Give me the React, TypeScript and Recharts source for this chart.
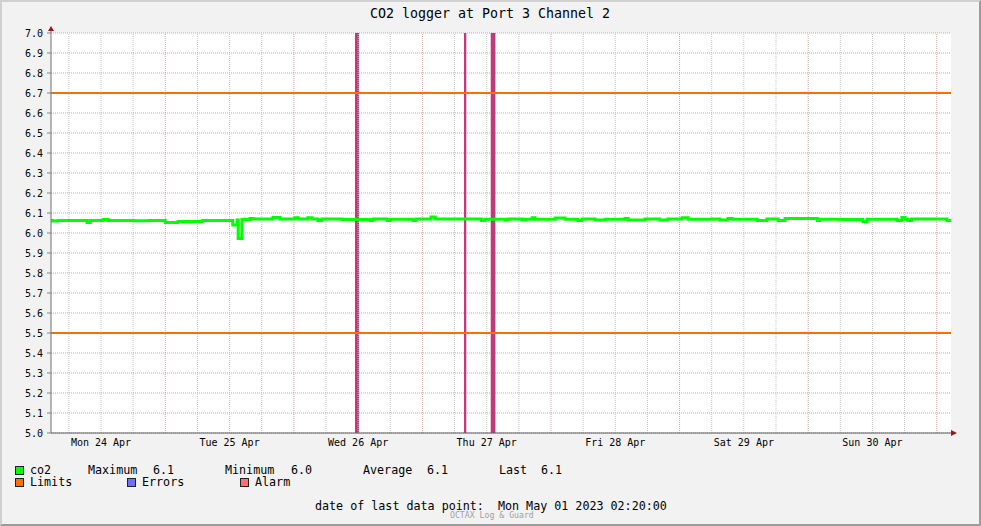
import React from "react";
import {
  LineChart,
  Line,
  XAxis,
  YAxis,
  CartesianGrid,
  ReferenceLine,
  ReferenceArea,
} from "recharts";

const MONO = "'DejaVu Sans Mono', monospace";

// hours since Mon 24 Apr 00:00
const hours = [
  2.67, 2.9, 4.0, 5.3, 9.4, 10.0, 12.4, 13.3, 18, 21, 24.0, 26.4, 30.9, 36.6,
  37.4, 37.6, 38.3, 39.8, 40.4, 44.1, 45.4, 48.2, 48.8, 50.6, 51.4, 52.5, 53.2,
  57, 62.2, 62.8, 65.4, 66.0, 70.2, 70.8, 73.6, 74.4, 83.0, 83.7, 87.4, 88.0,
  90.6, 91.2, 92.5, 93.0, 96.8, 98.6, 101.0, 101.8, 104.2, 106.1, 109.8, 110.4,
  111.1, 113.6, 116.3, 117.8, 120.5, 121.6, 126, 127.5, 129.0, 129.8, 134.5,
  136.3, 138.4, 139.7, 145.7, 146.2, 150, 154.2, 155.0, 160.6, 161.5, 162.1,
  162.6, 163.3, 169.9, 170.67,
];
const co2 = [
  6.063, 6.06, 6.063, 6.062, 6.053, 6.062, 6.068, 6.062, 6.061, 6.062, 6.053,
  6.057, 6.062, 6.04, 6.065, 5.973, 6.068, 6.073, 6.07, 6.078, 6.07, 6.076,
  6.07, 6.076, 6.07, 6.062, 6.07, 6.068, 6.062, 6.07, 6.062, 6.069, 6.062,
  6.07, 6.08, 6.07, 6.062, 6.069, 6.065, 6.07, 6.065, 6.069, 6.076, 6.069,
  6.075, 6.069, 6.062, 6.07, 6.065, 6.069, 6.072, 6.065, 6.065, 6.07, 6.065,
  6.07, 6.076, 6.069, 6.07, 6.065, 6.073, 6.069, 6.062, 6.07, 6.062, 6.073,
  6.062, 6.069, 6.068, 6.057, 6.069, 6.062, 6.078, 6.069, 6.062, 6.07, 6.062,
  6.062,
];

const alarmStart = [59.41, 79.76, 84.75];
const alarmEnd = [60.16, 80.19, 85.61];
const limits = [6.7, 5.5];

const dayTicks = [12, 36, 60, 84, 108, 132, 156];
const dayLabels = [
  "Mon 24 Apr",
  "Tue 25 Apr",
  "Wed 26 Apr",
  "Thu 27 Apr",
  "Fri 28 Apr",
  "Sat 29 Apr",
  "Sun 30 Apr",
];
const yTicks = [
  5.0, 5.1, 5.2, 5.3, 5.4, 5.5, 5.6, 5.7, 5.8, 5.9, 6.0, 6.1, 6.2, 6.3, 6.4,
  6.5, 6.6, 6.7, 6.8, 6.9, 7.0,
];
const minorGrid = [6, 12, 18, 30, 36, 42, 54, 60, 66, 78, 84, 90, 102, 108, 114, 126, 132, 138, 150, 156, 162];
const majorGrid = [24, 48, 72, 96, 120, 144, 168];

const data = hours.map((h, i) => ({ h, co2: co2[i] }));

const Box = ({ x, y, c }) => (
  <rect x={x + 0.5} y={y + 0.5} width={8} height={8} fill={c} stroke="#222" />
);

export default function App() {
  return (
    <div
      style={{
        position: "absolute",
        left: 0,
        top: 0,
        width: 981,
        height: 526,
        background: "#f2f2f2",
        boxSizing: "border-box",
        borderTop: "2px solid #d0d0d0",
        borderLeft: "2px solid #d0d0d0",
        borderBottom: "2px solid #9c9c9c",
        borderRight: "2px solid #9c9c9c",
      }}
    >
      <div style={{ position: "absolute", left: -2, top: -2 }}>
        <LineChart
          width={981}
          height={526}
          data={data}
          margin={{ top: 33, right: 30, bottom: 73, left: 6 }}
        >
          <CartesianGrid
            vertical={false}
            fill="#ffffff"
            stroke="#e29a9a"
            strokeDasharray="1 1"
          />
          {minorGrid.map((g) => (
            <ReferenceLine key={"m" + g} x={g} stroke="#c4c4c4" strokeDasharray="1 1" />
          ))}
          {majorGrid.map((g) => (
            <ReferenceLine key={"M" + g} x={g} stroke="#e29a9a" strokeDasharray="1 1" />
          ))}
          <XAxis
            type="number"
            dataKey="h"
            domain={[2.667, 170.667]}
            allowDataOverflow
            ticks={dayTicks}
            tickFormatter={(v) => dayLabels[dayTicks.indexOf(v)]}
            tick={{ fontSize: 10, fill: "#000", fontFamily: MONO }}
            tickLine={false}
            tickSize={6}
            tickMargin={0}
            axisLine={{ stroke: "#606060" }}
            height={20}
          />
          <YAxis
            type="number"
            domain={[5, 7]}
            ticks={yTicks}
            interval={0}
            tickFormatter={(v) => v.toFixed(1)}
            tick={{ fontSize: 10, fill: "#000", fontFamily: MONO }}
            tickLine={{ stroke: "#808080" }}
            tickSize={4}
            tickMargin={4}
            axisLine={{ stroke: "#707070" }}
            width={45}
          />
          {limits.map((l) => (
            <ReferenceLine key={"l" + l} y={l} stroke="#f97000" strokeWidth={2} />
          ))}
          <Line
            type="stepAfter"
            dataKey="co2"
            stroke="#00ff00"
            strokeWidth={3}
            dot={false}
            isAnimationActive={false}
          />
          {alarmStart.map((s, i) => (
            <ReferenceArea
              key={"a" + i}
              x1={s}
              x2={alarmEnd[i]}
              y1={5}
              y2={7}
              fill="#c2387a"
              fillOpacity={1}
              stroke="none"
            />
          ))}
        </LineChart>
        <svg
          width={981}
          height={526}
          style={{ position: "absolute", left: 0, top: 0, pointerEvents: "none" }}
          fontFamily={MONO}
        >
          <path d="M48 31 L54 31 L51 26 Z" fill="#9a1a1a" />
          <path d="M951 430 L951 436 L957 433 Z" fill="#9a1a1a" />
          <line x1={51} y1={31} x2={51} y2={33} stroke="#707070" />
          <text x={490} y={18} textAnchor="middle" fontSize={13.3} fill="#000">
            CO2 logger at Port 3 Channel 2
          </text>
          <g fontSize={11.7} fill="#000">
            <Box x={15} y={466} c="#00ff00" />
            <text x={30} y={474}>co2</text>
            <text x={88} y={474}>Maximum</text>
            <text x={153} y={474}>6.1</text>
            <text x={225} y={474}>Minimum</text>
            <text x={291} y={474}>6.0</text>
            <text x={363} y={474}>Average</text>
            <text x={427} y={474}>6.1</text>
            <text x={499} y={474}>Last</text>
            <text x={541} y={474}>6.1</text>
            <Box x={15} y={478} c="#ff7000" />
            <text x={30} y={486}>Limits</text>
            <Box x={127} y={478} c="#7070ff" />
            <text x={142} y={486}>Errors</text>
            <Box x={240} y={478} c="#ff7070" />
            <text x={255} y={486}>Alarm</text>
            <text x={315} y={510} style={{ whiteSpace: "pre" }}>
              {"date of last data point:  Mon May 01 2023 02:20:00"}
            </text>
          </g>
          <text x={450} y={518} fontSize={8.2} fill="#a0a0a0">
            OCTAX Log &amp; Guard
          </text>
        </svg>
      </div>
    </div>
  );
}
